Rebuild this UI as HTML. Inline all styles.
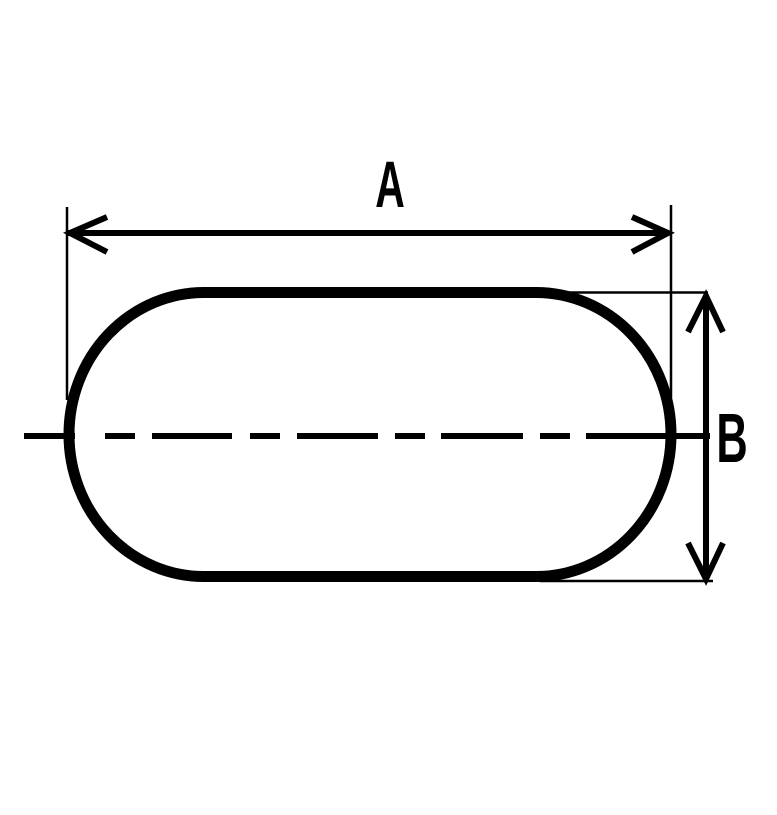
<!DOCTYPE html>
<html><head><meta charset="utf-8"><style>html,body{margin:0;padding:0;background:#fff}</style></head>
<body>
<svg width="777" height="810" viewBox="0 0 777 810" xmlns="http://www.w3.org/2000/svg">
<rect width="777" height="810" fill="#fff"/>
<!-- stadium -->
<path d="M204,292.5 H536 A135,142 0 0 1 536,576.5 H204 A135,142 0 0 1 204,292.5 Z" fill="none" stroke="#000" stroke-width="11"/>
<!-- centerline -->
<g stroke="#000" stroke-width="6">
<line x1="24" y1="436" x2="75" y2="436"/>
<line x1="105" y1="436" x2="135" y2="436"/>
<line x1="152" y1="436" x2="232" y2="436"/>
<line x1="250" y1="436" x2="280" y2="436"/>
<line x1="297" y1="436" x2="378" y2="436"/>
<line x1="395" y1="436" x2="425" y2="436"/>
<line x1="441" y1="436" x2="523" y2="436"/>
<line x1="540" y1="436" x2="570" y2="436"/>
<line x1="586" y1="436" x2="710" y2="436"/>
</g>
<!-- extension lines -->
<g stroke="#000" stroke-width="2.5">
<line x1="67" y1="207" x2="67" y2="400"/>
<line x1="671" y1="205" x2="671" y2="398"/>
<line x1="540" y1="292.5" x2="708" y2="292.5"/>
<line x1="540" y1="581" x2="713" y2="581"/>
</g>
<!-- A dimension -->
<g stroke="#000" stroke-width="6" fill="none">
<line x1="68" y1="233" x2="669" y2="233"/>
<polyline points="107,217 70,233 107,252"/>
<polyline points="632,217 668,233 632,252"/>
<line x1="706" y1="295" x2="706" y2="579"/>
<polyline points="688,332 706,296 723,332"/>
<polyline points="688,543 706,579 723,543"/>
</g>
<text x="0" y="0" transform="translate(390,207) scale(0.62,1)" text-anchor="middle" font-family="Liberation Sans, sans-serif" font-weight="bold" font-size="66">A</text>
<text x="0" y="0" transform="translate(732,462) scale(0.62,1)" text-anchor="middle" font-family="Liberation Sans, sans-serif" font-weight="bold" font-size="70">B</text>
</svg>
</body></html>
